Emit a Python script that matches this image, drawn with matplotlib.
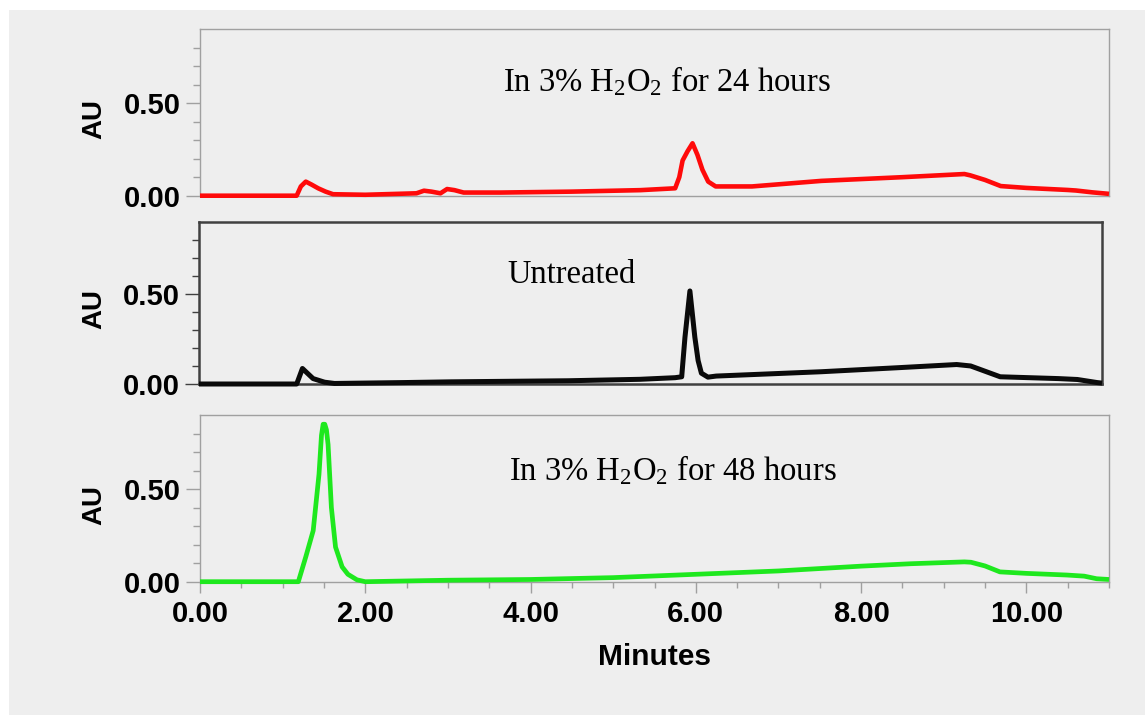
import numpy as np
import matplotlib
matplotlib.use('Agg')
import matplotlib.pyplot as plt
from matplotlib.patches import Rectangle
from matplotlib.ticker import MultipleLocator, FixedLocator

plt.rcParams['font.family'] = ['Liberation Sans', 'DejaVu Sans']
plt.rcParams['mathtext.fontset'] = 'custom'
plt.rcParams['mathtext.rm'] = 'Liberation Serif'
plt.rcParams['mathtext.it'] = 'Liberation Serif:italic'

# --- chromatogram traces (minutes, AU) ---
t_24h = [0, 1.17, 1.22, 1.28, 1.35, 1.43, 1.52, 1.61, 2.0, 2.62, 2.71, 2.8, 2.91, 2.99,
         3.08, 3.19, 3.64, 4.5, 5.33, 5.75, 5.8, 5.84, 5.9, 5.96, 6.02, 6.08, 6.15, 6.24,
         6.68, 7.52, 8.5, 9.25, 9.32, 9.5, 9.69, 10.0, 10.5, 10.6, 10.8, 11.0]
au_24h = [0, 0, 0.05, 0.076, 0.06, 0.04, 0.022, 0.008, 0.005, 0.013, 0.027, 0.022, 0.013, 0.036,
          0.03, 0.017, 0.017, 0.022, 0.03, 0.04, 0.1, 0.19, 0.24, 0.283, 0.22, 0.14, 0.076, 0.05,
          0.05, 0.08, 0.1, 0.117, 0.11, 0.085, 0.052, 0.042, 0.031, 0.028, 0.018, 0.01]

t_untr = [0, 1.19, 1.26, 1.32, 1.39, 1.53, 1.65, 2.5, 3.06, 4.5, 5.37, 5.8, 5.88, 5.92,
          5.98, 6.04, 6.08, 6.12, 6.2, 6.3, 7.58, 8.5, 9.23, 9.4, 9.76, 10.47, 10.7, 10.94, 11.0]
au_untr = [0, 0, 0.086, 0.06, 0.03, 0.01, 0.003, 0.008, 0.012, 0.018, 0.026, 0.035, 0.04, 0.26,
           0.516, 0.26, 0.13, 0.06, 0.038, 0.044, 0.068, 0.09, 0.108, 0.1, 0.04, 0.03, 0.025, 0.008, 0.005]

t_48h = [0, 1.19, 1.28, 1.37, 1.44, 1.47, 1.49, 1.51, 1.53, 1.55, 1.59, 1.64, 1.72, 1.79, 1.9, 2.0,
         3.0, 4.0, 5.0, 6.0, 7.0, 8.0, 8.6, 9.25, 9.33, 9.5, 9.68, 10.0, 10.49, 10.7, 10.85, 11.0]
au_48h = [0, 0, 0.134, 0.276, 0.58, 0.79, 0.85, 0.85, 0.82, 0.74, 0.40, 0.187, 0.08, 0.04, 0.01, 0.0,
          0.008, 0.012, 0.022, 0.04, 0.058, 0.084, 0.097, 0.107, 0.105, 0.085, 0.053, 0.045, 0.036,
          0.03, 0.016, 0.012]

labels = [r'In 3% H$_2$O$_2$ for 24 hours', 'Untreated', r'In 3% H$_2$O$_2$ for 48 hours']
y_major = [0.0, 0.5]
y_major_labels = ['0.00', '0.50']
y_minor = [0.1, 0.2, 0.3, 0.4, 0.6, 0.7, 0.8]
x_major = [0, 2, 4, 6, 8, 10]
x_major_labels = ['0.00', '2.00', '4.00', '6.00', '8.00', '10.00']

W, H = 1145, 715
fig = plt.figure(figsize=(W / 100, H / 100), dpi=100, facecolor='white')
bg = '#eeeeee'
fig.patches.append(Rectangle((9 / W, 0), 1, 1 - 10 / H, transform=fig.transFigure,
                             facecolor=bg, edgecolor='none', zorder=-10))

# axes boxes in pixels: left, zero line, right, top
boxes = [(200, 195.7, 1109, 29), (199, 384, 1102, 221.7), (200, 581.7, 1109, 415)]
traces = [(t_24h, au_24h, '#ff0a0a', 3.3),
          (t_untr, au_untr, '#0a0a0a', 3.6),
          (t_48h, au_48h, '#1ee81e', 3.4)]
frame_cols = ['#a0a0a0', '#404040', '#a0a0a0']
frame_lw = [1.0, 1.8, 1.0]
text_pos = [(0.333, 0.624), (0.341, 0.622), (0.340, 0.606)]

axes = []
for i in range(3):
    l, b, r, t = boxes[i]
    ax = fig.add_axes([l / W, 1 - b / H, (r - l) / W, (b - t) / H])
    ax.set_facecolor('none')
    tx, ty, col, lw = traces[i]
    ax.plot(tx, ty, color=col, lw=lw, solid_joinstyle='round', solid_capstyle='butt',
            clip_on=False, zorder=3)
    ax.set_xlim(0, 11)
    ax.set_ylim(0, 0.9)

    for sp in ax.spines.values():
        sp.set_color(frame_cols[i])
        sp.set_linewidth(frame_lw[i])

    ax.yaxis.set_major_locator(FixedLocator(y_major))
    ax.yaxis.set_minor_locator(FixedLocator(y_minor))
    ax.set_yticklabels(y_major_labels)
    ax.tick_params(axis='y', which='major', length=10, width=1, color=frame_cols[i],
                   labelsize=21, pad=4)
    ax.tick_params(axis='y', which='minor', length=5, width=1, color=frame_cols[i])
    for lab in ax.get_yticklabels():
        lab.set_fontweight('bold')

    if i < 2:
        ax.tick_params(axis='x', which='both', bottom=False, labelbottom=False)
    else:
        ax.xaxis.set_major_locator(FixedLocator(x_major))
        ax.xaxis.set_minor_locator(MultipleLocator(0.5))
        ax.set_xticklabels(x_major_labels)
        ax.tick_params(axis='x', which='major', length=8, width=1, color=frame_cols[i],
                       labelsize=21, pad=5)
        ax.tick_params(axis='x', which='minor', length=4, width=1, color=frame_cols[i])
        for lab in ax.get_xticklabels():
            lab.set_fontweight('bold')

    ax.text((94 - l) / (r - l), 0.46, 'AU', transform=ax.transAxes, rotation=90,
            ha='center', va='center', fontsize=20, fontweight='bold')
    ax.text(text_pos[i][0], text_pos[i][1], labels[i], transform=ax.transAxes,
            ha='left', va='baseline', fontsize=23.5, fontweight='normal',
            family=['Liberation Serif', 'DejaVu Serif'])
    axes.append(ax)

fig.text(654.5 / W, 1 - 657 / H, 'Minutes', ha='center', va='center',
         fontsize=21.5, fontweight='bold')

fig.savefig('out.png', dpi=100, facecolor='white')
